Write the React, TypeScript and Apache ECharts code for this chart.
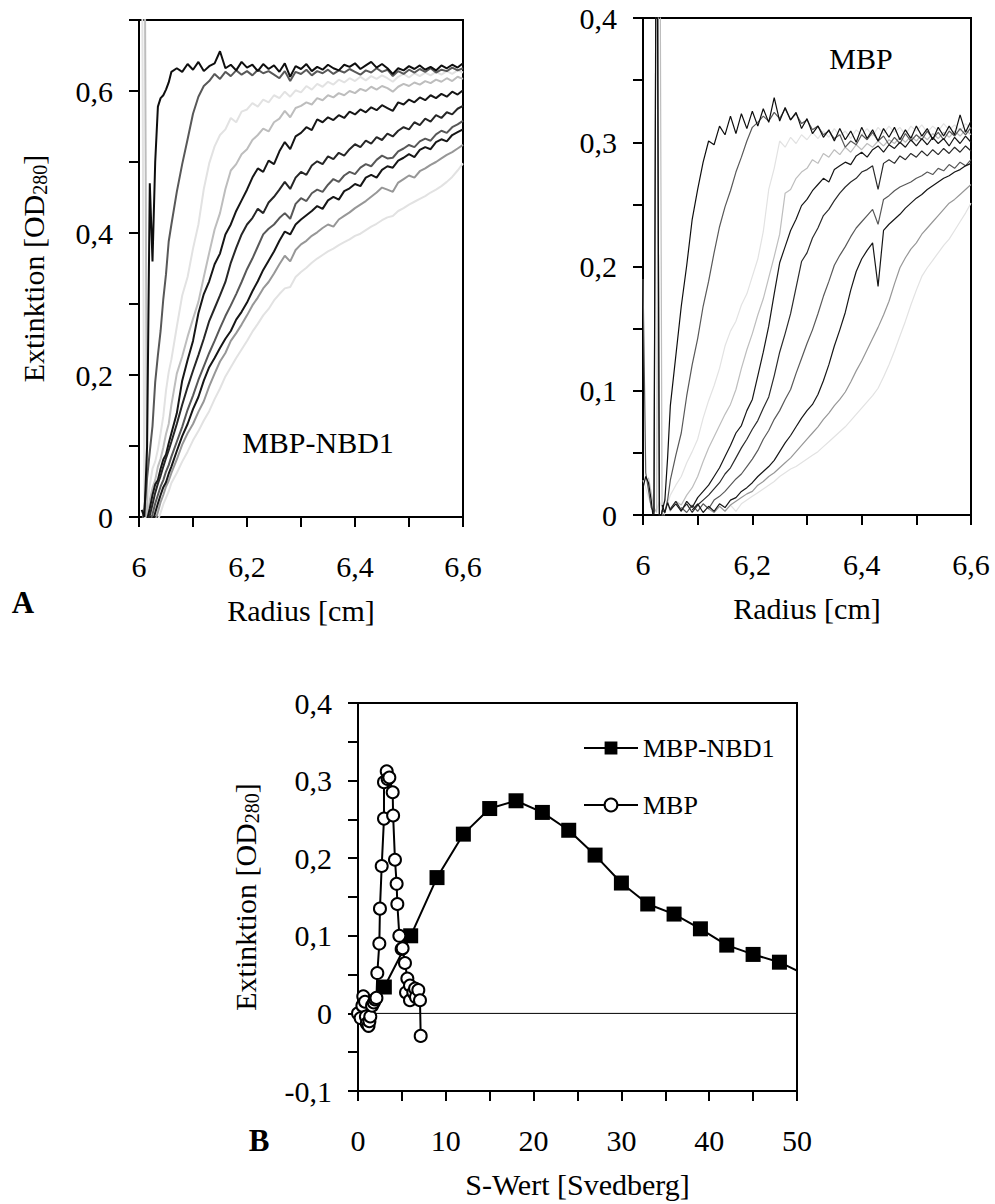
import React, { useEffect, useRef } from 'react';
import * as echarts from 'echarts';

const FONT = 'Liberation Serif, Times New Roman, serif';

// ---------- Panel A (left): MBP-NBD1 scans, radius [cm] ----------
const radiusA = [6.000,6.005,6.010,6.015,6.020,6.025,6.030,6.035,6.040,6.045,6.050,6.055,6.060,6.07,6.08,6.09,6.10,6.11,6.12,6.13,6.14,6.15,6.16,6.17,6.18,6.19,6.20,6.21,6.22,6.23,6.24,6.25,6.26,6.27,6.28,6.29,6.30,6.31,6.32,6.33,6.34,6.35,6.36,6.37,6.38,6.39,6.40,6.41,6.42,6.43,6.44,6.45,6.46,6.47,6.48,6.49,6.50,6.51,6.52,6.53,6.54,6.55,6.56,6.57,6.58,6.59,6.60];

const nbd1Scan1 = [null,0.01,0.0,0.10,0.47,0.36,0.50,0.578,0.590,0.594,
 0.602,0.612,0.627,0.632,0.627,0.638,0.630,0.641,0.628,0.635,
 0.639,0.656,0.632,0.637,0.629,0.641,0.633,0.637,0.628,0.638,
 0.631,0.636,0.627,0.639,0.620,0.635,0.631,0.638,0.628,0.634,
 0.630,0.637,0.632,0.629,0.637,0.634,0.639,0.631,0.636,0.641,
 0.633,0.638,0.632,0.624,0.632,0.629,0.635,0.631,0.636,0.630,
 0.634,0.629,0.636,0.632,0.637,0.633,0.639];
const nbd1Scan2 = [null,-0.01,0.012,0.055,0.092,0.128,0.190,0.228,0.262,0.307,
 0.342,0.388,0.412,0.458,0.497,0.532,0.568,0.592,0.607,0.614,
 0.624,0.617,0.627,0.621,0.629,0.623,0.628,0.622,0.630,0.625,
 0.628,0.623,0.618,0.628,0.614,0.627,0.624,0.630,0.622,0.628,
 0.625,0.630,0.624,0.629,0.626,0.631,0.627,0.623,0.629,0.626,
 0.632,0.627,0.630,0.621,0.628,0.624,0.630,0.626,0.631,0.627,
 0.632,0.626,0.630,0.628,0.633,0.629,0.632];
const nbd1Scan3 = [null,0.95,-0.01,0.018,0.045,0.068,0.078,0.095,0.118,0.142,
 0.178,0.204,0.222,0.268,0.312,0.338,0.378,0.412,0.462,0.498,
 0.522,0.538,0.546,0.562,0.556,0.571,0.574,0.583,0.578,0.588,
 0.584,0.594,0.590,0.599,0.592,0.601,0.598,0.607,0.602,0.610,
 0.606,0.613,0.609,0.616,0.612,0.618,0.614,0.620,0.615,0.621,
 0.617,0.622,0.618,0.613,0.620,0.624,0.619,0.625,0.621,0.626,
 0.622,0.627,0.623,0.628,0.624,0.629,0.626];
const nbd1Scan4 = [null,null,0.95,-0.01,0.024,0.041,0.052,0.071,0.082,0.098,
 0.117,0.131,0.158,0.202,0.226,0.254,0.279,0.303,0.338,0.372,
 0.405,0.428,0.462,0.488,0.497,0.511,0.518,0.531,0.538,0.547,
 0.543,0.556,0.561,0.572,0.563,0.576,0.579,0.584,0.581,0.590,
 0.587,0.594,0.591,0.597,0.594,0.600,0.597,0.603,0.600,0.606,
 0.602,0.607,0.604,0.599,0.606,0.610,0.607,0.612,0.609,0.614,
 0.611,0.616,0.613,0.618,0.614,0.620,0.617];
const nbd1Scan5 = [null,null,-0.01,-0.004,0.012,0.031,0.046,0.052,0.068,0.081,
 0.088,0.104,0.118,0.146,0.192,0.221,0.248,0.287,0.314,0.332,
 0.356,0.371,0.398,0.412,0.431,0.446,0.461,0.478,0.491,0.486,
 0.502,0.497,0.515,0.528,0.518,0.536,0.541,0.549,0.545,0.560,
 0.556,0.563,0.559,0.566,0.562,0.571,0.567,0.574,0.570,0.577,
 0.573,0.580,0.576,0.572,0.584,0.581,0.588,0.584,0.591,0.587,
 0.594,0.590,0.596,0.592,0.599,0.595,0.601];
const nbd1Scan6 = [null,null,null,-0.01,0.002,0.018,0.034,0.047,0.058,0.071,
 0.083,0.094,0.106,0.131,0.158,0.183,0.206,0.228,0.251,0.276,
 0.294,0.312,0.331,0.358,0.379,0.398,0.412,0.421,0.434,0.428,
 0.443,0.451,0.461,0.472,0.462,0.478,0.486,0.482,0.495,0.501,
 0.497,0.508,0.504,0.513,0.509,0.518,0.525,0.521,0.530,0.526,
 0.535,0.531,0.540,0.536,0.544,0.549,0.546,0.556,0.552,0.561,
 0.557,0.566,0.562,0.570,0.567,0.575,0.579];
const nbd1Scan7 = [null,null,null,null,-0.01,0.004,0.019,0.031,0.043,0.052,
 0.064,0.073,0.085,0.106,0.127,0.151,0.171,0.193,0.212,0.231,
 0.248,0.266,0.283,0.298,0.314,0.331,0.349,0.364,0.381,0.398,
 0.406,0.412,0.421,0.428,0.420,0.441,0.449,0.445,0.456,0.461,
 0.458,0.468,0.476,0.472,0.481,0.486,0.483,0.492,0.497,0.494,
 0.503,0.509,0.505,0.506,0.515,0.519,0.524,0.521,0.529,0.533,
 0.530,0.539,0.544,0.541,0.549,0.553,0.558];
const nbd1Scan8 = [null,null,null,null,null,-0.008,0.006,0.019,0.031,0.042,
 0.049,0.061,0.071,0.093,0.114,0.131,0.152,0.169,0.192,0.211,
 0.224,0.238,0.251,0.262,0.278,0.289,0.302,0.318,0.332,0.348,
 0.361,0.374,0.389,0.402,0.398,0.412,0.419,0.425,0.431,0.438,
 0.434,0.446,0.451,0.447,0.459,0.463,0.469,0.466,0.478,0.482,
 0.478,0.489,0.494,0.492,0.502,0.506,0.511,0.507,0.517,0.521,
 0.518,0.528,0.532,0.529,0.538,0.542,0.546];
const nbd1Scan9 = [null,null,null,null,null,null,-0.006,0.007,0.021,0.031,
 0.043,0.051,0.062,0.081,0.102,0.118,0.131,0.148,0.163,0.184,
 0.202,0.219,0.231,0.248,0.259,0.271,0.284,0.298,0.309,0.322,
 0.331,0.343,0.356,0.368,0.360,0.376,0.384,0.389,0.396,0.401,
 0.407,0.412,0.409,0.419,0.424,0.429,0.435,0.440,0.445,0.451,
 0.457,0.464,0.461,0.458,0.471,0.476,0.481,0.478,0.487,0.491,
 0.496,0.500,0.505,0.510,0.514,0.519,0.524];
const nbd1Scan10 = [null,null,null,null,null,null,null,-0.005,0.006,0.018,
 0.027,0.036,0.048,0.062,0.078,0.092,0.108,0.121,0.136,0.149,
 0.166,0.181,0.198,0.211,0.224,0.236,0.248,0.261,0.272,0.284,
 0.293,0.305,0.314,0.322,0.324,0.338,0.345,0.351,0.358,0.364,
 0.369,0.374,0.378,0.383,0.387,0.391,0.396,0.399,0.404,0.409,
 0.413,0.418,0.422,0.424,0.431,0.435,0.440,0.444,0.448,0.452,
 0.457,0.461,0.466,0.472,0.479,0.488,0.498];

// ---------- Panel A (right): MBP scans ----------
const radiusB = [6.000,6.005,6.010,6.015,6.020,6.025,6.030,6.035,6.040,6.045,6.050,6.06,6.07,6.08,6.09,6.10,6.11,6.12,6.13,6.14,6.15,6.16,6.17,6.18,6.19,6.20,6.21,6.22,6.23,6.24,6.25,6.26,6.27,6.28,6.29,6.30,6.31,6.32,6.33,6.34,6.35,6.36,6.37,6.38,6.39,6.40,6.41,6.42,6.43,6.44,6.45,6.46,6.47,6.48,6.49,6.50,6.51,6.52,6.53,6.54,6.55,6.56,6.57,6.58,6.59,6.60];

const mbpScan1 = [0.022,0.031,0.026,0.012,-0.008,0.6,-0.01,0.003,0.012,0.046,
 0.088,0.128,0.168,0.201,0.238,0.262,0.284,0.301,0.298,0.313,
 0.306,0.321,0.307,0.323,0.311,0.325,0.313,0.327,0.316,0.336,
 0.317,0.328,0.318,0.324,0.311,0.319,0.307,0.313,0.304,0.310,
 0.301,0.311,0.302,0.309,0.300,0.312,0.303,0.310,0.301,0.311,
 0.304,0.312,0.302,0.310,0.303,0.313,0.305,0.311,0.302,0.312,
 0.305,0.313,0.306,0.322,0.308,0.317];
const mbpScan2 = [0.19,0.034,0.02,0.006,0.002,0.62,-0.01,0.004,0.002,0.012,
 0.028,0.048,0.066,0.096,0.121,0.142,0.168,0.188,0.211,0.232,
 0.248,0.261,0.276,0.288,0.301,0.312,0.316,0.321,0.317,0.324,
 0.319,0.327,0.318,0.323,0.315,0.318,0.310,0.313,0.306,0.309,
 0.303,0.306,0.296,0.301,0.298,0.306,0.302,0.308,0.301,0.305,
 0.298,0.304,0.299,0.307,0.301,0.306,0.302,0.309,0.303,0.308,
 0.302,0.309,0.305,0.311,0.306,0.312];
const mbpScan3 = [0.028,0.022,0.014,0.008,0.003,0.004,0.011,0.006,0.013,0.009,
 0.016,0.024,0.031,0.042,0.051,0.061,0.078,0.092,0.104,0.118,
 0.136,0.148,0.156,0.169,0.178,0.192,0.206,0.228,0.262,0.279,
 0.301,0.296,0.304,0.299,0.306,0.302,0.308,0.303,0.309,0.304,
 0.311,0.305,0.309,0.303,0.310,0.306,0.311,0.305,0.312,0.307,
 0.313,0.308,0.312,0.306,0.313,0.309,0.314,0.308,0.313,0.309,
 0.315,0.310,0.314,0.309,0.315,0.311];
const mbpScan4 = [null,null,0.03,0.018,0.006,0.002,0.62,-0.01,0.004,0.009,
 0.003,0.011,0.008,0.016,0.022,0.031,0.043,0.054,0.063,0.072,
 0.081,0.089,0.101,0.118,0.133,0.146,0.161,0.174,0.191,0.208,
 0.226,0.259,0.262,0.271,0.276,0.279,0.286,0.283,0.291,0.288,
 0.294,0.290,0.296,0.292,0.298,0.294,0.299,0.296,0.301,0.297,
 0.302,0.299,0.304,0.300,0.305,0.301,0.306,0.302,0.307,0.303,
 0.308,0.304,0.309,0.305,0.310,0.306];
const mbpScan5 = [null,null,null,null,null,null,null,0.008,0.002,0.010,
 0.004,0.009,0.003,0.011,0.006,0.014,0.019,0.024,0.031,0.038,
 0.047,0.056,0.066,0.072,0.084,0.093,0.112,0.131,0.152,0.178,
 0.203,0.216,0.229,0.238,0.249,0.254,0.261,0.266,0.271,0.268,
 0.278,0.281,0.284,0.282,0.289,0.292,0.288,0.294,0.297,0.292,
 0.298,0.295,0.300,0.296,0.302,0.297,0.303,0.298,0.304,0.299,
 0.303,0.297,0.304,0.299,0.305,0.300];
const mbpScan6 = [null,null,null,null,null,null,null,null,null,null,
 0.005,0.011,0.004,0.009,0.002,0.008,0.012,0.016,0.021,0.026,
 0.033,0.038,0.046,0.054,0.061,0.069,0.076,0.086,0.095,0.112,
 0.131,0.146,0.162,0.183,0.204,0.211,0.223,0.231,0.241,0.246,
 0.253,0.259,0.264,0.268,0.271,0.276,0.278,0.281,0.262,0.283,
 0.286,0.283,0.289,0.286,0.291,0.288,0.293,0.289,0.294,0.290,
 0.295,0.291,0.296,0.292,0.297,0.293];
const mbpScan7 = [null,null,null,null,null,null,null,null,null,null,
 null,null,0.006,0.002,0.008,0.003,0.009,0.005,0.012,0.015,
 0.019,0.024,0.029,0.033,0.039,0.045,0.052,0.061,0.068,0.077,
 0.084,0.093,0.101,0.114,0.126,0.138,0.149,0.162,0.176,0.188,
 0.201,0.209,0.216,0.224,0.231,0.236,0.241,0.246,0.234,0.254,
 0.257,0.261,0.264,0.266,0.268,0.271,0.273,0.276,0.274,0.279,
 0.277,0.282,0.279,0.284,0.281,0.286];
const mbpScan8 = [null,null,null,null,null,null,null,null,null,null,
 null,null,null,null,0.004,0.009,0.002,0.007,0.003,0.009,
 0.006,0.012,0.014,0.019,0.022,0.026,0.031,0.035,0.039,0.044,
 0.051,0.058,0.064,0.071,0.078,0.084,0.089,0.097,0.108,0.121,
 0.136,0.149,0.163,0.181,0.196,0.206,0.213,0.219,0.184,0.229,
 0.234,0.238,0.242,0.247,0.251,0.255,0.258,0.262,0.265,0.268,
 0.271,0.273,0.276,0.278,0.281,0.283];
const mbpScan9 = [null,null,null,null,null,null,null,null,null,null,
 null,null,null,null,null,null,null,0.005,0.002,0.007,
 0.003,0.008,0.011,0.014,0.017,0.019,0.024,0.027,0.031,0.034,
 0.038,0.042,0.046,0.051,0.056,0.061,0.066,0.071,0.077,0.082,
 0.088,0.093,0.099,0.107,0.116,0.124,0.133,0.142,0.151,0.161,
 0.172,0.186,0.199,0.207,0.214,0.219,0.226,0.231,0.236,0.241,
 0.246,0.251,0.254,0.258,0.262,0.266];
const mbpScan10 = [null,null,null,null,null,null,null,null,null,null,
 null,null,null,null,null,null,null,null,null,null,
 0.004,0.008,0.003,0.009,0.012,0.015,0.018,0.021,0.024,0.027,
 0.031,0.034,0.037,0.039,0.042,0.045,0.048,0.051,0.055,0.059,
 0.063,0.067,0.071,0.076,0.081,0.086,0.091,0.096,0.102,0.111,
 0.121,0.132,0.144,0.156,0.169,0.181,0.192,0.199,0.205,0.211,
 0.217,0.222,0.229,0.236,0.243,0.251];

// ---------- Panel B: distribution vs S value ----------
const sNBD1 = [3, 6, 9, 12, 15, 18, 21, 24, 27, 30, 33, 36, 39, 42, 45, 48];
const extNBD1 = [0.034, 0.100, 0.175, 0.231, 0.264, 0.274, 0.259, 0.236, 0.204, 0.168, 0.141, 0.128, 0.109, 0.088, 0.076, 0.066];
const sNBD1Tail = 50.9;
const extNBD1Tail = 0.050;

const sMBP = [0.0, 0.3, 0.5, 0.6, 0.8, 0.9, 1.0, 1.2, 1.3, 1.4, 1.6, 1.8, 1.95, 2.1, 2.2, 2.43, 2.5, 2.7, 2.96, 2.96, 3.27, 3.38, 3.57, 3.95, 4.0, 4.21, 4.4, 4.48, 4.71, 4.97, 5.08, 5.35, 5.62, 5.47, 5.92, 5.92, 6.3, 6.5, 6.6, 6.87, 7.06, 7.14];
const extMBP = [0.0, -0.006, 0.01, 0.022, 0.015, -0.004, -0.013, -0.016, -0.01, -0.004, 0.01, 0.014, 0.018, 0.02, 0.052, 0.09, 0.135, 0.19, 0.251, 0.298, 0.312, 0.302, 0.304, 0.285, 0.255, 0.198, 0.167, 0.141, 0.1, 0.083, 0.084, 0.065, 0.045, 0.027, 0.036, 0.017, 0.027, 0.032, 0.021, 0.03, 0.017, -0.029];

const zeroLineS = [0, 50.9];

// ---------- styling ----------
const VLIGHT = '#e2e2e2';
const LIGHT = '#bdbdbd';
const GRAY = '#979797';
const DARK = '#585858';
const BLACK = '#161616';

const leftScans = [
  { d: nbd1Scan10, c: VLIGHT }, { d: nbd1Scan3, c: VLIGHT }, { d: nbd1Scan4, c: LIGHT },
  { d: nbd1Scan9, c: GRAY }, { d: nbd1Scan2, c: DARK }, { d: nbd1Scan7, c: DARK },
  { d: nbd1Scan5, c: BLACK }, { d: nbd1Scan6, c: '#262626' }, { d: nbd1Scan8, c: BLACK },
  { d: nbd1Scan1, c: '#0e0e0e' },
];
const rightScans = [
  { d: mbpScan10, c: VLIGHT }, { d: mbpScan3, c: VLIGHT }, { d: mbpScan4, c: LIGHT },
  { d: mbpScan9, c: GRAY }, { d: mbpScan2, c: DARK }, { d: mbpScan7, c: DARK },
  { d: mbpScan5, c: BLACK }, { d: mbpScan6, c: '#2a2a2a' }, { d: mbpScan8, c: BLACK },
  { d: mbpScan1, c: '#0e0e0e' },
];

const fmt = (step: number) => (v: number) => {
  const r = Math.round(v * 1000);
  const s = Math.round(step * 1000);
  if (r % s !== 0) return '';
  return String(r / 1000).replace('.', ',');
};

const axisBase = (fontSize: number) => ({
  type: 'value' as const,
  axisLine: { show: true, onZero: false, lineStyle: { color: '#000', width: 2 } },
  axisTick: { show: true, inside: false, length: 10, lineStyle: { color: '#000', width: 2 } },
  splitLine: { show: false },
  axisLabel: { color: '#000', fontSize, fontFamily: FONT },
});

const yName = '{a|Extinktion [OD}{b|280}{a|]}';
const yNameStyle = {
  color: '#000',
  fontFamily: FONT,
  fontSize: 30,
  rich: {
    a: { fontSize: 30, fontFamily: FONT, color: '#000', lineHeight: 34 },
    b: { fontSize: 20, fontFamily: FONT, color: '#000', lineHeight: 20, verticalAlign: 'bottom' },
  },
};
const xNameStyle = { color: '#000', fontFamily: FONT, fontSize: 30 };

function buildOption() {
  const gridBase = { show: true, borderColor: '#000', borderWidth: 2, backgroundColor: 'transparent' };
  const series: any[] = [];
  leftScans.forEach((s, i) => {
    series.push({
      type: 'line', name: 'nbd1-' + i, xAxisIndex: 0, yAxisIndex: 0,
      data: radiusA.map((x, k) => [x, s.d[k]]),
      symbol: 'none', showSymbol: false, silent: true,
      lineStyle: { color: s.c, width: 2 },
    });
  });
  rightScans.forEach((s, i) => {
    series.push({
      type: 'line', name: 'mbp-' + i, xAxisIndex: 1, yAxisIndex: 1,
      data: radiusB.map((x, k) => [x, s.d[k]]),
      symbol: 'none', showSymbol: false, silent: true,
      lineStyle: { color: s.c, width: 1.2 },
    });
  });
  series.push({
    type: 'line', name: 'zero', xAxisIndex: 2, yAxisIndex: 2, clip: false,
    data: zeroLineS.map((x) => [x, 0]), symbol: 'none', silent: true,
    lineStyle: { color: '#000', width: 1 },
  });
  series.push({
    type: 'line', name: 'MBP-NBD1', xAxisIndex: 2, yAxisIndex: 2, clip: false,
    data: [...sNBD1.map((x, k) => [x, extNBD1[k]]), { value: [sNBD1Tail, extNBD1Tail], symbol: 'none' }],
    symbol: 'rect', symbolSize: 15, showAllSymbol: true,
    itemStyle: { color: '#000' }, lineStyle: { color: '#000', width: 2 },
  });
  series.push({
    type: 'line', name: 'MBP', xAxisIndex: 2, yAxisIndex: 2, clip: false,
    data: sMBP.map((x, k) => [x, extMBP[k]]),
    symbol: 'emptyCircle', symbolSize: 12, showAllSymbol: true,
    itemStyle: { color: '#000', borderWidth: 1.6 }, lineStyle: { color: '#000', width: 2 },
  });

  return {
    animation: false,
    backgroundColor: '#fff',
    textStyle: { fontFamily: FONT, color: '#000' },
    grid: [
      { ...gridBase, left: 139, top: 20, width: 324, height: 497 },
      { ...gridBase, left: 643, top: 18, width: 328, height: 497 },
      { ...gridBase, left: 358, top: 703, width: 439, height: 388 },
    ],
    xAxis: [
      { ...axisBase(30), gridIndex: 0, min: 6, max: 6.6, interval: 0.1,
        axisLabel: { ...axisBase(30).axisLabel, margin: 34, formatter: fmt(0.2) },
        name: 'Radius [cm]', nameLocation: 'middle', nameGap: 78, nameTextStyle: xNameStyle },
      { ...axisBase(30), gridIndex: 1, min: 6, max: 6.6, interval: 0.1,
        axisLabel: { ...axisBase(30).axisLabel, margin: 34, formatter: fmt(0.2) },
        name: 'Radius [cm]', nameLocation: 'middle', nameGap: 78, nameTextStyle: xNameStyle },
      { ...axisBase(30), gridIndex: 2, min: 0, max: 50, interval: 5,
        axisLabel: { ...axisBase(30).axisLabel, margin: 34, formatter: fmt(10) },
        name: 'S-Wert [Svedberg]', nameLocation: 'middle', nameGap: 78, nameTextStyle: xNameStyle },
    ],
    yAxis: [
      { ...axisBase(30), gridIndex: 0, min: 0, max: 0.7, interval: 0.1,
        axisLabel: { ...axisBase(30).axisLabel, margin: 26, formatter: fmt(0.2) },
        name: yName, nameLocation: 'middle', nameRotate: 90, nameGap: 89, nameTextStyle: yNameStyle },
      { ...axisBase(30), gridIndex: 1, min: 0, max: 0.4, interval: 0.05,
        axisLabel: { ...axisBase(30).axisLabel, margin: 26, formatter: fmt(0.1) } },
      { ...axisBase(30), gridIndex: 2, min: -0.1, max: 0.4, interval: 0.05,
        axisLabel: { ...axisBase(30).axisLabel, margin: 26, formatter: fmt(0.1) },
        name: yName, nameLocation: 'middle', nameRotate: 90, nameGap: 96, nameTextStyle: yNameStyle },
    ],
    legend: {
      data: ['MBP-NBD1', 'MBP'],
      orient: 'vertical', left: 578, top: 728,
      itemWidth: 54, itemHeight: 16, itemGap: 27,
      selectedMode: false,
      textStyle: { fontSize: 26, fontFamily: FONT, color: '#000', lineHeight: 30 },
    },
    graphic: [
      { type: 'text', x: 23, y: 602, style: { text: 'A', fontSize: 31, fontWeight: 'bold', fontFamily: FONT, fill: '#000', align: 'center', verticalAlign: 'middle' } },
      { type: 'text', x: 259, y: 1140, style: { text: 'B', fontSize: 31, fontWeight: 'bold', fontFamily: FONT, fill: '#000', align: 'center', verticalAlign: 'middle' } },
      { type: 'text', x: 318, y: 442, style: { text: 'MBP-NBD1', fontSize: 30, fontFamily: FONT, fill: '#000', align: 'center', verticalAlign: 'middle' } },
      { type: 'text', x: 861, y: 58, style: { text: 'MBP', fontSize: 30, fontFamily: FONT, fill: '#000', align: 'center', verticalAlign: 'middle' } },
    ],
    series,
  };
}

export default function App() {
  const ref = useRef<HTMLDivElement>(null);
  useEffect(() => {
    document.body.style.margin = '0';
    const chart = echarts.init(ref.current as HTMLDivElement, null, { renderer: 'svg' });
    chart.setOption(buildOption() as any);
    return () => chart.dispose();
  }, []);
  return <div ref={ref} style={{ width: 995, height: 1204, background: '#fff' }} />;
}
